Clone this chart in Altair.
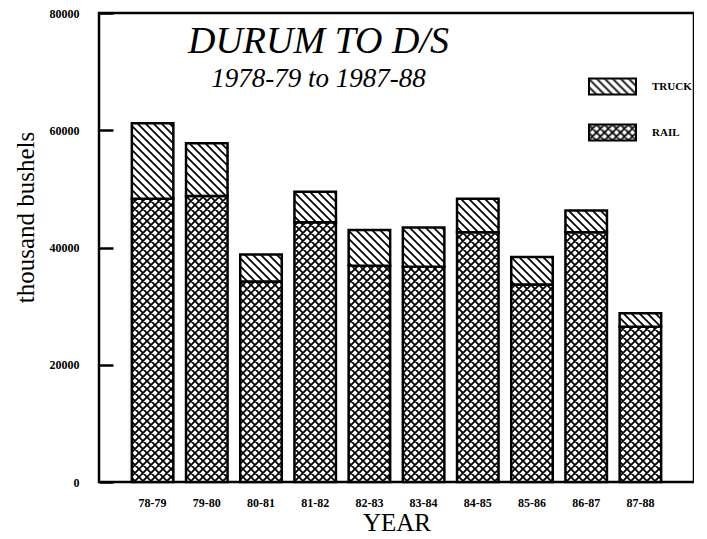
import altair as alt
import pandas as pd
import jinja2

# ---- data (thousand bushels) ----
years = ["78-79", "79-80", "80-81", "81-82", "82-83", "83-84", "84-85", "85-86", "86-87", "87-88"]
rail = [48300, 48800, 34200, 44300, 36900, 36700, 42600, 33700, 42600, 26500]
truck = [12900, 9000, 4600, 5200, 6100, 6700, 5700, 4700, 3700, 2300]
modes = ["TRUCK", "RAIL"]
y_tick_values = [0, 20000, 40000, 60000, 80000]

rows = []
for i, yr in enumerate(years):
    rows.append({"year": yr, "mode": "RAIL", "value": rail[i], "ord": 0})
    rows.append({"year": yr, "mode": "TRUCK", "value": truck[i], "ord": 1})
df = pd.DataFrame(rows)

SERIF = "Liberation Serif"
yscale = alt.Scale(domain=[0, 80000], nice=False)

bars = alt.Chart(df).mark_bar(stroke="black", strokeWidth=2.5).encode(
    x=alt.X(
        "year:N", sort=years,
        scale=alt.Scale(paddingInner=0.234, paddingOuter=0.606),
        axis=alt.Axis(
            title="YEAR", labelAngle=0, ticks=False, domain=False, labelPadding=15,
            labelFont=SERIF, labelFontWeight="bold", labelFontSize=12, labelColor="black",
            titleFont=SERIF, titleFontSize=25, titleFontWeight="normal", titleColor="black",
            titleY=48, titleBaseline="alphabetic",
        ),
    ),
    y=alt.Y(
        "value:Q", stack="zero", scale=yscale,
        axis=alt.Axis(
            title="thousand bushels", values=y_tick_values, format="d",
            ticks=True, tickSize=14, tickWidth=2.5, tickColor="black", tickOpacity=1,
            offset=-14, zindex=1,
            domain=False, grid=False, labelPadding=20, labelFlush=False,
            labelFont=SERIF, labelFontWeight="bold", labelFontSize=12, labelColor="black",
            titleFont=SERIF, titleFontSize=25, titleFontWeight="normal", titleColor="black",
            titleX=-88, titleY=204, titleAngle=-90, titleAlign="center", titleBaseline="middle",
        ),
    ),
    fill=alt.Fill(
        "mode:N",
        scale=alt.Scale(domain=modes, range=["url(#truckpat)", "url(#railpat)"]),
        legend=alt.Legend(
            title=None, orient="none", legendX=489, legendY=49, direction="vertical",
            symbolType="M-1,-0.34L1,-0.34L1,0.34L-1,0.34Z", symbolSize=2209,
            symbolStrokeColor="black", symbolStrokeWidth=2,
            labelFont=SERIF, labelFontWeight="bold", labelFontSize=11, labelColor="black",
            labelOffset=15, rowPadding=9,
        ),
    ),
    order=alt.Order("ord:Q"),
)

chart = bars.properties(
    width=595,
    height=469,
    autosize=alt.AutoSizeParams(type="none"),
    padding={"left": 91, "top": 5, "right": 0, "bottom": 57},
    title=alt.TitleParams(
        text="DURUM TO D/S", subtitle="1978-79 to 1987-88",
        font=SERIF, fontSize=38, fontStyle="italic", fontWeight="normal", color="black",
        subtitleFont=SERIF, subtitleFontSize=27, subtitleFontStyle="italic", subtitleColor="black",
        subtitlePadding=5, anchor="middle", dx=-78, dy=89,
    ),
).configure_view(stroke="black", strokeWidth=2.5)

PAGE = jinja2.Template("""<!DOCTYPE html>
<html>
<head>
  <style>
    #{{ output_div }}.vega-embed { width: 100%; display: flex; }
  </style>
  <script type="text/javascript" src="{{ base_url }}/vega@{{ vega_version }}"></script>
  <script type="text/javascript" src="{{ base_url }}/vega-lite@{{ vegalite_version }}"></script>
  <script type="text/javascript" src="{{ base_url }}/vega-embed@{{ vegaembed_version }}"></script>
</head>
<body>
  <svg width="0" height="0" style="position:absolute">
    <defs>
      <pattern id="truckpat" patternUnits="userSpaceOnUse" width="8" height="8">
        <rect width="8" height="8" fill="white"/>
        <path d="M-1,-1 L9,9 M-2,6 L2,10 M6,-2 L10,2" stroke="black" stroke-width="1.7"/>
      </pattern>
      <pattern id="railpat" patternUnits="userSpaceOnUse" width="8" height="8">
        <rect width="8" height="8" fill="white"/>
        <path d="M-1,-1 L9,9 M-2,6 L2,10 M6,-2 L10,2 M9,-1 L-1,9 M-2,2 L2,-2 M6,10 L10,6" stroke="black" stroke-width="1.8"/>
      </pattern>
    </defs>
  </svg>
  <div id="{{ output_div }}"></div>
  <script>
    (function(vegaEmbed) {
      var spec = {{ spec }};
      var embedOpt = {{ embed_options }};
      var el = document.getElementById('{{ output_div }}');
      vegaEmbed("#{{ output_div }}", spec, embedOpt).catch(function(error) {
        el.innerHTML = '<div style="color:red;">' + error.message + '</div>';
        throw error;
      });
    })(vegaEmbed);
  </script>
</body>
</html>""")

chart.save("out.html", embed_options={"renderer": "svg", "actions": False}, template=PAGE)
